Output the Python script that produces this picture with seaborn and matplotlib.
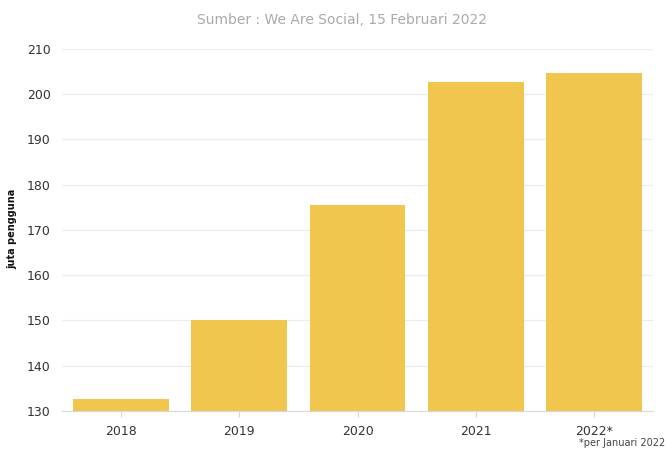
import matplotlib
matplotlib.use("Agg")
import matplotlib.pyplot as plt
import seaborn as sns
import pandas as pd

## Data
tahun = ["2018", "2019", "2020", "2021", "2022*"]
pengguna = [132.7, 150.1, 175.5, 202.6, 204.7]

df = pd.DataFrame({"tahun": tahun, "pengguna": pengguna})

sns.set_style("white")
plt.rcParams["font.family"] = ["DejaVu Sans"]

fig = plt.figure(figsize=(6.67, 4.49), dpi=100)
ax = fig.add_axes([0.093, 0.085, 0.886, 0.806])

sns.barplot(data=df, x="tahun", y="pengguna", color="#F0C64E", width=0.81,
            saturation=1, linewidth=0, ax=ax, zorder=2)

ax.set_ylim(130, 210)
ax.set_xlim(-0.5, 4.5)
ax.set_yticks(range(130, 211, 10))
ax.yaxis.grid(True, color="#ececec", linewidth=0.8, zorder=0)
ax.set_axisbelow(True)

for s in ["top", "right", "left"]:
    ax.spines[s].set_visible(False)
ax.spines["bottom"].set_color("#d8d8d8")

ax.tick_params(axis="y", length=0, labelsize=9, labelcolor="#333333", pad=8)
ax.tick_params(axis="x", length=4, color="#d8d8d8", labelsize=9,
               labelcolor="#333333", pad=6, bottom=True)

ax.set_xlabel("")
ax.set_ylabel("")
fig.text(0.018, 0.49, "juta pengguna", rotation=90, ha="center", va="center",
         fontsize=7, fontweight="bold", color="#111111")

fig.text(0.512, 0.955, "Sumber : We Are Social, 15 Februari 2022",
         ha="center", va="center", fontsize=10, color="#aaaaaa")
fig.text(0.998, 0.003, "*per Januari 2022", ha="right", va="bottom",
         fontsize=7, color="#444444")

fig.savefig("out.png", dpi=100)
